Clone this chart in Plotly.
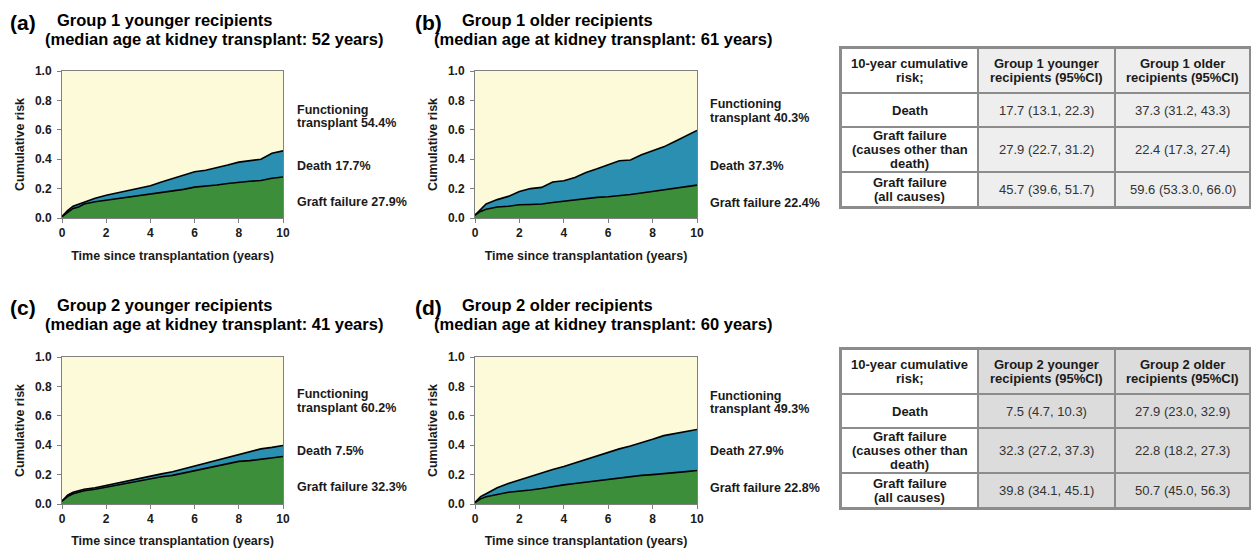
import plotly.graph_objects as go

W, H = 1251, 548

# ---------------- data ----------------
time_years = [0, 0.25, 0.5, 0.75, 1, 1.5, 2, 2.5, 3, 3.5, 4, 4.5, 5, 5.5, 6,
              6.5, 7, 7.5, 8, 8.5, 9, 9.5, 10]

# cumulative risk of graft failure (causes other than death)
g1_young_graft = [0.01, 0.04, 0.065, 0.075, 0.095, 0.11, 0.12, 0.13, 0.14, 0.155, 0.165, 0.175,
                  0.185, 0.195, 0.21, 0.215, 0.225, 0.235, 0.245, 0.25, 0.255, 0.27, 0.279]
# cumulative risk of graft failure (all causes) = graft failure + death
g1_young_total = [0.01, 0.05, 0.08, 0.095, 0.11, 0.135, 0.155, 0.17, 0.185, 0.20, 0.22, 0.245,
                  0.27, 0.295, 0.315, 0.325, 0.34, 0.36, 0.38, 0.39, 0.40, 0.44, 0.457]

g1_old_graft = [0.02, 0.045, 0.06, 0.07, 0.075, 0.08, 0.09, 0.092, 0.095, 0.105, 0.115, 0.125,
                0.135, 0.14, 0.145, 0.15, 0.16, 0.17, 0.18, 0.19, 0.2, 0.21, 0.224]
g1_old_total = [0.02, 0.06, 0.095, 0.11, 0.125, 0.147, 0.18, 0.2, 0.208, 0.245, 0.253, 0.276,
                0.31, 0.335, 0.36, 0.39, 0.395, 0.43, 0.457, 0.484, 0.52, 0.556, 0.596]

g2_young_graft = [0.02, 0.05, 0.07, 0.08, 0.09, 0.10, 0.115, 0.125, 0.14, 0.155, 0.17, 0.185,
                  0.195, 0.21, 0.225, 0.24, 0.255, 0.27, 0.29, 0.295, 0.305, 0.315, 0.323]
g2_young_total = [0.02, 0.06, 0.08, 0.09, 0.10, 0.11, 0.125, 0.14, 0.155, 0.17, 0.19, 0.205,
                  0.22, 0.24, 0.26, 0.275, 0.295, 0.315, 0.34, 0.355, 0.375, 0.385, 0.398]

g2_old_graft = [0.01, 0.035, 0.05, 0.055, 0.065, 0.08, 0.085, 0.095, 0.105, 0.12, 0.13, 0.14,
                0.15, 0.155, 0.165, 0.175, 0.185, 0.195, 0.2, 0.205, 0.21, 0.22, 0.228]
g2_old_total = [0.01, 0.05, 0.07, 0.09, 0.11, 0.14, 0.165, 0.185, 0.21, 0.235, 0.255, 0.28,
                0.305, 0.33, 0.355, 0.375, 0.395, 0.415, 0.44, 0.465, 0.48, 0.495, 0.507]

panel_letters = ["(a)", "(b)", "(c)", "(d)"]
panel_groups = ["Group 1 younger recipients", "Group 1 older recipients",
                "Group 2 younger recipients", "Group 2 older recipients"]
median_ages = [52, 61, 41, 60]
functioning_pct = [54.4, 40.3, 60.2, 49.3]
death_pct = [17.7, 37.3, 7.5, 27.9]
graft_pct = [27.9, 22.4, 32.3, 22.8]

table_corner = ["10-year cumulative", "risk;"]
table_row_labels = [["Death"], ["Graft failure", "(causes other than", "death)"],
                    ["Graft failure", "(all causes)"]]
table1_headers = [["Group 1 younger", "recipients (95%CI)"], ["Group 1 older", "recipients (95%CI)"]]
table1_young = ["17.7 (13.1, 22.3)", "27.9 (22.7, 31.2)", "45.7 (39.6, 51.7)"]
table1_old = ["37.3 (31.2, 43.3)", "22.4 (17.3, 27.4)", "59.6 (53.3.0, 66.0)"]
table2_headers = [["Group 2 younger", "recipients (95%CI)"], ["Group 2 older", "recipients (95%CI)"]]
table2_young = ["7.5 (4.7, 10.3)", "32.3 (27.2, 37.3)", "39.8 (34.1, 45.1)"]
table2_old = ["27.9 (23.0, 32.9)", "22.8 (18.2, 27.3)", "50.7 (45.0, 56.3)"]

# ---------------- style / layout ----------------
FONT = "Liberation Sans, Arial, Helvetica, sans-serif"
YELLOW = "#fcfad9"
BLUE = "#2a8fb0"
GREEN = "#3d8e3a"
AXIS_GRAY = "#808080"
TXT = "#1a1a1a"

def xdom(x0, x1):
    return [x0 / W, x1 / W]

def ydom(y0, y1):
    return [1 - y1 / H, 1 - y0 / H]

panel_boxes = [(62, 283, 71, 218), (475, 697, 71, 218),
               (62, 283, 357, 504), (475, 697, 357, 504)]
# title positions (px): letter x, line1 x, line2 x, line1 y, line2 y
title_pos = [(8, 55, 43, 20, 39), (413, 460, 432, 20, 39),
             (8, 55, 43, 305, 324), (413, 460, 432, 305, 324)]
label_y = [(0.69, 0.354, 0.109), (0.728, 0.354, 0.105),
           (0.70, 0.36, 0.116), (0.69, 0.36, 0.109)]
label_shift = [12, 11, 12, 11]

series = [(g1_young_graft, g1_young_total), (g1_old_graft, g1_old_total),
          (g2_young_graft, g2_young_total), (g2_old_graft, g2_old_total)]

fig = go.Figure()
layout = dict(width=W, height=H, autosize=False,
              margin=dict(l=0, r=0, t=0, b=0, pad=0, autoexpand=False),
              paper_bgcolor="white", plot_bgcolor=YELLOW, showlegend=False,
              font=dict(family=FONT, color=TXT))
annotations = []
shapes = []

for i in range(4):
    n = i + 1
    xa, ya = f"x{n}" if n > 1 else "x", f"y{n}" if n > 1 else "y"
    graft, total = series[i]
    fig.add_trace(go.Scatter(x=time_years, y=graft, xaxis=xa, yaxis=ya, mode="lines",
                             line=dict(color="black", width=1.6, shape="linear"),
                             fill="tozeroy", fillcolor=GREEN, name="Graft failure",
                             hoverinfo="skip"))
    fig.add_trace(go.Scatter(x=time_years, y=total, xaxis=xa, yaxis=ya, mode="lines",
                             line=dict(color="black", width=1.6, shape="linear"),
                             fill="tonexty", fillcolor=BLUE, name="Death",
                             hoverinfo="skip"))
    x0, x1, y0, y1 = panel_boxes[i]
    axis_common = dict(showline=True, linecolor=AXIS_GRAY, linewidth=1, mirror=True,
                       ticks="outside", ticklen=4, tickwidth=1, tickcolor=AXIS_GRAY,
                       showgrid=False, zeroline=False, automargin=False,
                       tickfont=dict(family=FONT, size=12, weight="bold", color=TXT))
    layout["xaxis" + (str(n) if n > 1 else "")] = dict(
        domain=xdom(x0, x1), anchor=ya, range=[0, 10], tickvals=[0, 2, 4, 6, 8, 10],
        title=dict(text="Time since transplantation (years)", standoff=11,
                   font=dict(family=FONT, size=12.5, weight="bold", color=TXT)),
        **axis_common)
    layout["yaxis" + (str(n) if n > 1 else "")] = dict(
        domain=ydom(y0, y1), anchor=xa, range=[0, 1], tickvals=[0, 0.2, 0.4, 0.6, 0.8, 1.0],
        tickformat=".1f", ticklabelstandoff=3,
        title=dict(text="Cumulative risk", standoff=7,
                   font=dict(family=FONT, size=12.5, weight="bold", color=TXT)),
        **axis_common)

    # titles
    lx, t1x, t2x, t1y, t2y = title_pos[i]
    annotations.append(dict(text=f"<b>{panel_letters[i]}</b>", xref="paper", yref="paper",
                            x=lx / W, y=1 - (t1y + 2) / H, xanchor="left", yanchor="middle",
                            showarrow=False, font=dict(size=21, color="black")))
    annotations.append(dict(text=f"<b>{panel_groups[i]}</b>", xref="paper", yref="paper",
                            x=t1x / W, y=1 - t1y / H, xanchor="left", yanchor="middle",
                            showarrow=False, font=dict(size=16.5, color="black")))
    annotations.append(dict(text=f"<b>(median age at kidney transplant: {median_ages[i]} years)</b>",
                            xref="paper", yref="paper", x=t2x / W, y=1 - t2y / H,
                            xanchor="left", yanchor="middle", showarrow=False,
                            font=dict(size=16.5, color="black")))
    # right-side labels (each text line placed separately for tight spacing)
    label_lines = [["Functioning", f"transplant {functioning_pct[i]}%"],
                   [f"Death {death_pct[i]}%"],
                   [f"Graft failure {graft_pct[i]}%"]]
    for lines, yy in zip(label_lines, label_y[i]):
        nl = len(lines)
        for j, line in enumerate(lines):
            annotations.append(dict(text=f"<b>{line}</b>", xref=f"{xa} domain", yref=ya,
                                    x=1, y=yy, xshift=label_shift[i],
                                    yshift=-(j - (nl - 1) / 2) * 13.5,
                                    xanchor="left", yanchor="middle", align="left",
                                    showarrow=False, font=dict(size=12.5, color=TXT)))

# ---------------- tables ----------------
col_edges = [0, 137, 274, 409]
row_edges = [0, 45, 79, 124, 159]
LINE_STEP = 14  # px between text lines inside a cell
table_boxes = [(841, 1250, 48, 207), (841, 1250, 349, 508)]
table_fill = ["#eeeeee", "#dcdcdc"]
tables = [(table1_headers, table1_young, table1_old),
          (table2_headers, table2_young, table2_old)]
fill_class = [[0, 1, 1] for _ in range(4)]

for k in range(2):
    n = 5 + k
    xa, ya = f"x{n}", f"y{n}"
    x0, x1, y0, y1 = table_boxes[k]
    fig.add_trace(go.Heatmap(x=col_edges, y=row_edges, z=fill_class, xaxis=xa, yaxis=ya,
                             colorscale=[[0, "#ffffff"], [1, table_fill[k]]], zmin=0, zmax=1,
                             showscale=False, xgap=2, ygap=2, hoverinfo="skip"))
    tax = dict(showline=True, linecolor="#8c8c8c", linewidth=2, mirror=True, automargin=False,
               showgrid=False, zeroline=False, showticklabels=False, ticks="")
    layout[f"xaxis{n}"] = dict(domain=xdom(x0, x1), anchor=ya, range=[0, col_edges[-1]], **tax)
    layout[f"yaxis{n}"] = dict(domain=ydom(y0, y1), anchor=xa, range=[row_edges[-1], 0], **tax)
    shapes.append(dict(type="rect", xref=f"{xa} domain", yref=f"{ya} domain",
                       x0=0, x1=1, y0=0, y1=1, fillcolor="#8c8c8c", line=dict(width=0),
                       layer="below"))
    headers, young, old = tables[k]
    cells = [[table_corner] + table_row_labels,
             [headers[0]] + [[v] for v in young],
             [headers[1]] + [[v] for v in old]]
    for c in range(3):
        cx = (col_edges[c] + col_edges[c + 1]) / 2
        for r in range(4):
            cy = (row_edges[r] + row_edges[r + 1]) / 2
            bold = (r == 0) or (c == 0)
            lines = cells[c][r]
            nl = len(lines)
            for j, line in enumerate(lines):
                ly = cy + (j - (nl - 1) / 2) * LINE_STEP
                txt = f"<b>{line}</b>" if bold else line
                annotations.append(dict(text=txt, xref=xa, yref=ya, x=cx, y=ly,
                                        xanchor="center", yanchor="middle", align="center",
                                        showarrow=False,
                                        font=dict(size=13, color="#1a1a1a" if bold else "#333333")))

layout["annotations"] = annotations
layout["shapes"] = shapes
fig.update_layout(**layout)
fig.write_html("out.html", config={"displayModeBar": False},
               post_script="document.body.style.margin='0px';document.body.style.overflow='hidden';")
